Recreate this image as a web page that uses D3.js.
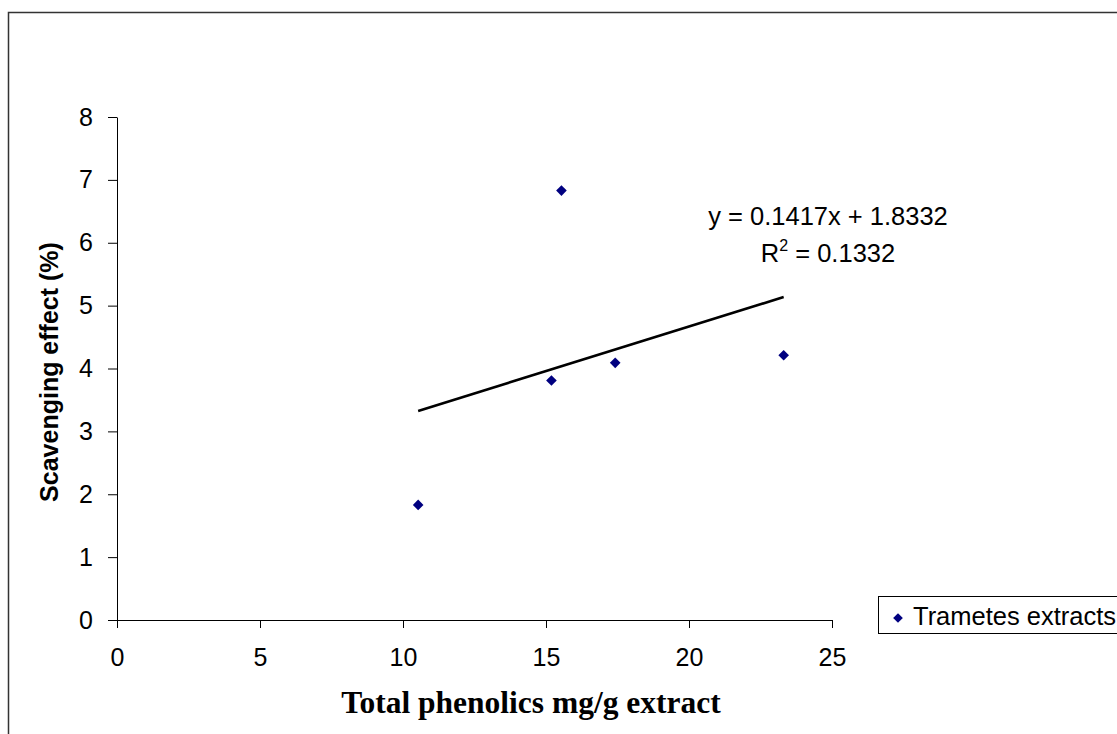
<!DOCTYPE html>
<html>
<head>
<meta charset="utf-8">
<script src="https://cdn.jsdelivr.net/npm/d3@7"></script>
<style>
  body { margin: 0; background: #fff; }
  svg { display: block; }
</style>
</head>
<body>
<div id="chart"></div>
<script>
const width = 1117
const height = 734

// data
const phenolics = [10.53, 15.54, 15.19, 17.42, 23.31]
const scavenging = [1.83, 6.83, 3.81, 4.09, 4.21]
const xTicks = [0, 5, 10, 15, 20, 25]
const yTicks = [0, 1, 2, 3, 4, 5, 6, 7, 8]
const slope = 0.1417
const intercept = 1.8332
const rSquared = 0.1332
const seriesName = 'Trametes extracts'

const font = '"Liberation Sans", Arial, sans-serif'
const fontSize = 25

const svg = d3.select('#chart')
  .append('svg')
  .attr('width', width)
  .attr('height', height)

// outer chart frame (cut off at right and bottom)
svg.append('path')
  .attr('d', `M8.5,${height + 5}V12.5H${width + 5}`)
  .attr('fill', 'none')
  .attr('stroke', '#333')
  .attr('stroke-width', 1.5)

const x = d3.scaleLinear().domain([0, 25]).range([117, 832])
const y = d3.scaleLinear().domain([0, 8]).range([620, 117])

const xAxis = svg.append('g')
  .attr('transform', `translate(0,${y(0)})`)
  .call(d3.axisBottom(x).tickValues(xTicks).tickSize(8).tickPadding(20).tickSizeOuter(0))

const yAxis = svg.append('g')
  .attr('transform', `translate(${x(0)},0)`)
  .call(d3.axisLeft(y).tickValues(yTicks).tickSize(9).tickPadding(15).tickSizeOuter(0))

;[xAxis, yAxis].forEach((g) => {
  g.select('.domain').attr('stroke', '#000').attr('stroke-width', 1)
  g.selectAll('.tick line').attr('stroke', '#000')
  g.selectAll('.tick text')
    .attr('font-family', font)
    .attr('font-size', fontSize)
    .attr('fill', '#000')
})
xAxis.selectAll('.tick text').attr('dy', '0.71em')

// trend line over the data range
const xExtent = d3.extent(phenolics)
svg.append('line')
  .attr('x1', x(xExtent[0]))
  .attr('y1', y(slope * xExtent[0] + intercept))
  .attr('x2', x(xExtent[1]))
  .attr('y2', y(slope * xExtent[1] + intercept))
  .attr('stroke', '#000')
  .attr('stroke-width', 2.6)

const diamond = d3.symbol().type(d3.symbolDiamond2).size(72)

svg.append('g')
  .selectAll('path')
  .data(phenolics.map((v, i) => [v, scavenging[i]]))
  .enter()
  .append('path')
  .attr('d', diamond)
  .attr('transform', (d) => `translate(${x(d[0])},${y(d[1])})`)
  .attr('fill', '#000080')

// equation label
const eq = svg.append('text')
  .attr('font-family', font)
  .attr('font-size', 25.5)
  .attr('text-anchor', 'middle')
  .attr('fill', '#000')
eq.append('tspan')
  .attr('x', 828)
  .attr('y', 225)
  .text(`y = ${slope}x + ${intercept}`)
const r2 = eq.append('tspan')
  .attr('x', 828)
  .attr('y', 262)
r2.append('tspan').text('R')
r2.append('tspan').attr('font-size', 16).attr('dy', -11).text('2')
r2.append('tspan').attr('dy', 11).text(` = ${rSquared}`)

// axis titles
svg.append('text')
  .attr('transform', 'translate(58,372) rotate(-90)')
  .attr('text-anchor', 'middle')
  .attr('font-family', font)
  .attr('font-weight', 'bold')
  .attr('font-size', fontSize)
  .text('Scavenging effect (%)')

svg.append('text')
  .attr('x', 531)
  .attr('y', 713)
  .attr('text-anchor', 'middle')
  .attr('font-family', '"Liberation Serif", "Times New Roman", serif')
  .attr('font-weight', 'bold')
  .attr('font-size', 31.5)
  .text('Total phenolics mg/g extract')

// legend
const legend = svg.append('g')
legend.append('rect')
  .attr('x', 878.5)
  .attr('y', 596.5)
  .attr('width', 260)
  .attr('height', 37)
  .attr('fill', 'none')
  .attr('stroke', '#000')
legend.append('path')
  .attr('d', d3.symbol().type(d3.symbolDiamond2).size(60))
  .attr('transform', 'translate(898,618)')
  .attr('fill', '#000080')
legend.append('text')
  .attr('x', 913)
  .attr('y', 625)
  .attr('font-family', font)
  .attr('font-size', 25.5)
  .text(seriesName)
</script>
</body>
</html>
